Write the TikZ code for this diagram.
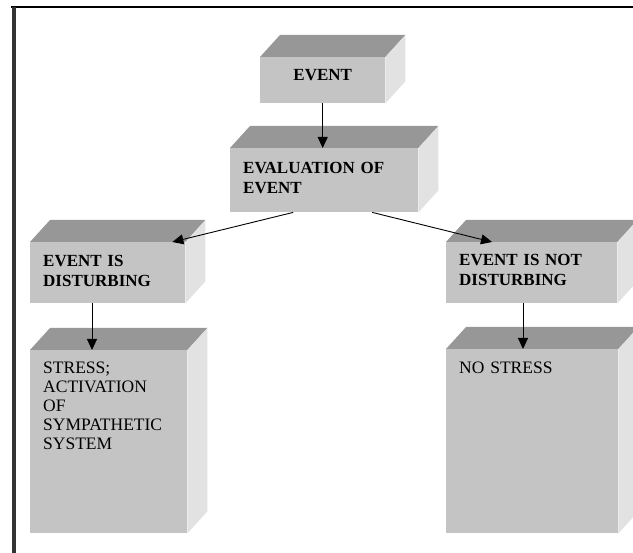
\documentclass[tikz,border=0pt]{standalone}
\usepackage{fontspec}
\setmainfont{Liberation Serif}
\usetikzlibrary{arrows.meta}

\definecolor{frontgray}{HTML}{C4C4C4}
\definecolor{topgray}{HTML}{979797}
\definecolor{sidegray}{HTML}{E2E2E2}

\tikzset{
  face/.style={fill=frontgray, anchor=north west, align=left, inner xsep=13pt, inner ysep=0pt,
    font=\fontsize{17}{20}\selectfont\bfseries},
  plain/.style={font=\fontsize{17.5}{19}\selectfont},
  arr/.style={-{Triangle[length=11pt,width=10pt]}, line width=0.9pt},
}

\begin{document}
\begin{tikzpicture}[x=1pt, y=-1pt]
    \useasboundingbox (0,0) rectangle (633,553);

    % frame
    \draw[line width=2pt] (11,7.5) -- (633,7.5);
    \draw[black!80, line width=4pt] (14,7) -- (14,553);

    % front faces
    \node[face, text width=99pt, align=center, text height=23pt, text depth=23pt] (event) at (260,57) {EVENT};
    \node[face, text width=162pt, text height=25pt, text depth=39pt] (eval) at (230,148) {EVALUATION OF\\EVENT};
    \node[face, text width=129pt, text height=24pt, text depth=37pt] (dist) at (30,242) {EVENT IS\\DISTURBING};
    \node[face, text width=145pt, text height=23pt, text depth=38pt] (notdist) at (446,242) {EVENT IS NOT\\DISTURBING};
    \node[face, plain, text width=131pt, text height=23pt, text depth=160pt] (stress) at (30,350) {STRESS;\\ACTIVATION\\OF\\SYMPATHETIC\\SYSTEM};
    \node[face, plain, text width=146pt, text height=24pt, text depth=160pt] (nostress) at (446,349) {NO STRESS};

    % top and side faces
    \foreach \b in {event,eval,dist,notdist,stress,nostress} {
        \fill[topgray] (\b.north west) -- ++(20,-22) -- ([shift={(20,-22)}]\b.north east) -- (\b.north east) -- cycle;
        \fill[sidegray] (\b.north east) -- ++(20,-22) -- ([shift={(20,-22)}]\b.south east) -- (\b.south east) -- cycle;
    }

    \draw[arr] (event.south) -- (event.south |- eval.north);
    \draw[arr] ([xshift=-31pt]eval.south) -- ([xshift=-13pt]dist.north east);
    \draw[arr] ([xshift=48pt]eval.south) -- ([xshift=46pt]notdist.north west);
    \draw[arr] ([xshift=62pt]dist.south west) -- ([xshift=62pt]stress.north west);
    \draw[arr] ([xshift=77pt]notdist.south west) -- ([xshift=77pt]nostress.north west);
\end{tikzpicture}
\end{document}
